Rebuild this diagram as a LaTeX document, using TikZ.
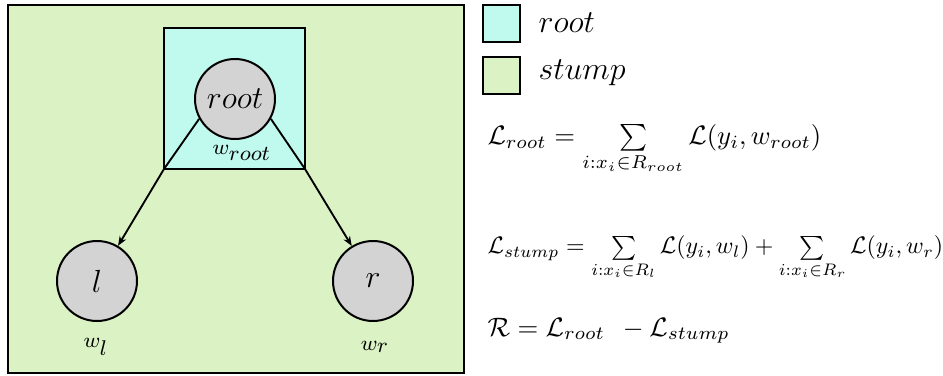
\documentclass[tikz,border=0pt]{standalone}
\usetikzlibrary{arrows.meta}
\newlength\pxu
\setlength\pxu{0.375pt}
\definecolor{stumpgreen}{RGB}{219,243,196}
\definecolor{rootcyan}{RGB}{192,250,238}
\definecolor{nodegray}{RGB}{211,211,211}
\tikzset{
  region/.style={draw=black, line width=0.9pt},
  treenode/.style={circle, draw=black, line width=0.75pt, fill=nodegray, minimum size=80\pxu, inner sep=0pt, font=\large},
  wlabel/.style={font=\footnotesize, inner sep=0pt},
  edge/.style={line width=0.7pt},
  arr/.style={line width=0.7pt, -{Stealth[length=3.6pt,width=2.8pt]}},
  legtext/.style={anchor=base west, inner sep=0pt, font=\large},
  formula/.style={anchor=base west, inner sep=0pt},
}
\begin{document}
\begin{tikzpicture}[x=\pxu, y=-\pxu]
\useasboundingbox (0,0) rectangle (943,376);
% stump region
\coordinate (gtl) at (8,5);
\coordinate (gbr) at (464,373);
\draw[region, fill=stumpgreen] (gtl) rectangle (gbr);
% root region
\coordinate (ctl) at (164,28);
\coordinate (cbr) at (305,169);
\coordinate (csw) at (164,169);
\coordinate (cse) at (305,169);
\draw[region, fill=rootcyan] (ctl) rectangle (cbr);
% nodes
\node[treenode] (root) at (235,99) {$root$};
\node[treenode] (l) at (97,281) {$l$};
\node[treenode] (r) at (373,281) {$r$};
\node[wlabel] (wroot) at (242,153) {$w_{\textstyle root}$};
\node[wlabel] (wl) at (96,347) {$w_{\textstyle l}$};
\node[wlabel] (wr) at (375,347) {$w_{\textstyle r}$};
% connectors
\draw[edge] (root.209) -- (csw);
\draw[edge] (root.-29) -- (cse);
\draw[arr] (csw) -- (l);
\draw[arr] (cse) -- (r);
% legend
\coordinate (lc1) at (483,5);
\coordinate (lc2) at (520,42);
\coordinate (lg1) at (483,57);
\coordinate (lg2) at (520,94);
\draw[region, fill=rootcyan] (lc1) rectangle (lc2);
\draw[region, fill=stumpgreen] (lg1) rectangle (lg2);
\node[legtext] (legroot) at (538,33) {$root$};
\node[legtext] (legstump) at (538,80) {$stump$};
% formulas
\node[formula] (f1) at (487,145) {$\mathcal{L}_{root} = \sum\limits_{i:x_i\in R_{root}} \mathcal{L}(y_i, w_{root})$};
\node[formula] (f2) at (487,254) {\scalebox{0.895}{$\mathcal{L}_{stump} = \sum\limits_{i:x_i\in R_l} \mathcal{L}(y_i, w_l) + \sum\limits_{i:x_i\in R_r} \mathcal{L}(y_i, w_r)$}};
\node[formula] (f3) at (487,336) {$\mathcal{R} = \mathcal{L}_{root}\;\, - \mathcal{L}_{stump}$};
\end{tikzpicture}
\end{document}
